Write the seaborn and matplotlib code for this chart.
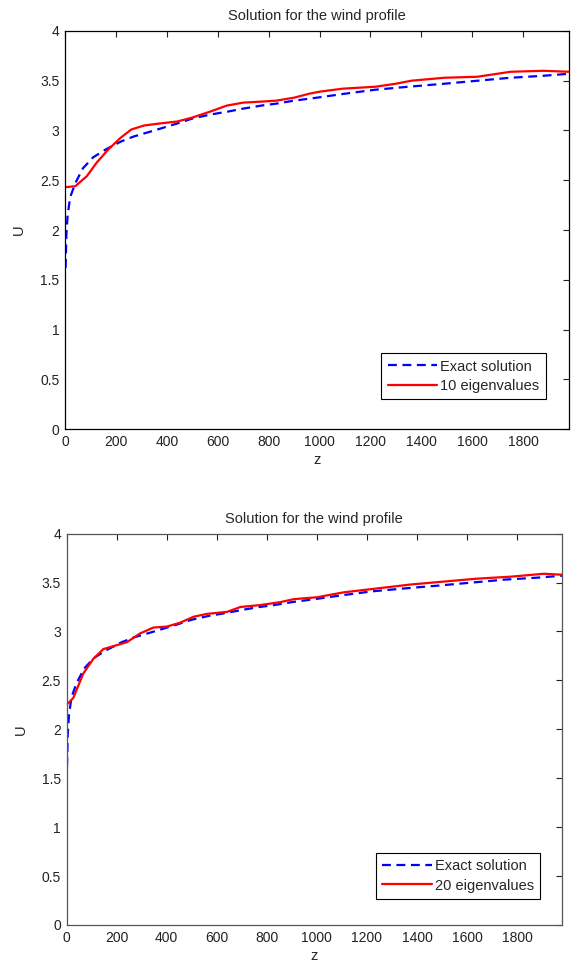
import numpy as np
import pandas as pd
import matplotlib
matplotlib.use('Agg')
import matplotlib.pyplot as plt
import seaborn as sns
from matplotlib.ticker import FuncFormatter, MultipleLocator

sns.set_theme(style='white')
plt.rcParams['font.family'] = ['Liberation Sans', 'DejaVu Sans']
plt.rcParams.update({'font.size': 10, 'xtick.direction': 'in', 'ytick.direction': 'in'})

# exact (log) wind profile
z_exact = [2, 5, 10, 20, 40, 70, 110, 160, 220, 270, 350, 440, 500, 570, 640, 700,
           770, 830, 900, 990, 1100, 1220, 1350, 1490, 1620, 1750, 1880, 1980]
u_exact = [1.62, 1.95, 2.15, 2.33, 2.47, 2.62, 2.73, 2.81, 2.89, 2.94, 3.00, 3.07, 3.12, 3.16,
           3.19, 3.22, 3.25, 3.27, 3.30, 3.33, 3.37, 3.41, 3.44, 3.47, 3.50, 3.53, 3.55, 3.57]

# 10 eigenvalue approximation
z_10 = [0, 40, 85, 125, 170, 215, 260, 310, 370, 440, 500, 570, 635, 700, 770, 830,
        900, 960, 1000, 1090, 1220, 1300, 1360, 1490, 1620, 1750, 1880, 1980]
u_10 = [2.43, 2.44, 2.54, 2.68, 2.81, 2.92, 3.01, 3.05, 3.07, 3.09, 3.13, 3.19, 3.25, 3.28,
        3.29, 3.30, 3.33, 3.37, 3.39, 3.42, 3.44, 3.47, 3.50, 3.53, 3.54, 3.59, 3.60, 3.59]

# 20 eigenvalue approximation
z_20 = [0, 27, 67, 107, 147, 187, 241, 294, 347, 401, 454, 507, 561, 641, 694, 774,
        854, 907, 1001, 1107, 1241, 1374, 1507, 1641, 1774, 1907, 1980]
u_20 = [2.25, 2.32, 2.57, 2.72, 2.82, 2.85, 2.89, 2.98, 3.04, 3.05, 3.09, 3.15, 3.18, 3.20,
        3.25, 3.27, 3.30, 3.33, 3.35, 3.40, 3.44, 3.48, 3.51, 3.54, 3.56, 3.59, 3.58]

exact = pd.DataFrame({'z': z_exact, 'U': u_exact})
approx = [
    (pd.DataFrame({'z': z_10, 'U': u_10}), '10 eigenvalues'),
    (pd.DataFrame({'z': z_20, 'U': u_20}), '20 eigenvalues'),
]

fig = plt.figure(figsize=(5.71, 9.65), dpi=100)
rects = [[0.114, 0.5554, 0.8825, 0.4125], [0.1165, 0.0415, 0.868, 0.4055]]
legend_anchor = [(0.954, 0.075), (0.956, 0.066)]
spine_col = ['black', '#555555']


def matlab_fmt(v, pos):
    return f'{v:g}'


for i, (df, lab) in enumerate(approx):
    ax = fig.add_axes(rects[i])
    sns.lineplot(data=exact, x='z', y='U', ax=ax, color='blue', linewidth=1.6,
                 linestyle=(0, (4, 2.5)), label='Exact solution')
    sns.lineplot(data=df, x='z', y='U', ax=ax, color='red', linewidth=1.6,
                 label=lab)
    ax.set_xlim(0, 1980)
    ax.set_ylim(0, 4)
    ax.xaxis.set_major_locator(MultipleLocator(200))
    ax.yaxis.set_major_locator(MultipleLocator(0.5))
    ax.yaxis.set_major_formatter(FuncFormatter(matlab_fmt))
    ax.tick_params(which='both', top=True, right=True, length=4, width=0.8,
                   colors='#222222', labelsize=10, pad=4)
    for s in ax.spines.values():
        s.set_color(spine_col[i])
        s.set_linewidth(0.9)
    ax.set_title('Solution for the wind profile', fontsize=10.5, pad=8)
    ax.set_xlabel('z', fontsize=10.5, labelpad=3)
    ax.set_ylabel('U', fontsize=10.5, labelpad=10)
    leg = ax.legend(loc='lower right', bbox_to_anchor=legend_anchor[i], borderaxespad=0,
                    fontsize=10.5, handlelength=3.4, fancybox=False, framealpha=1,
                    edgecolor='black', borderpad=0.45, labelspacing=0.35, handletextpad=0.2)
    leg.get_frame().set_linewidth(0.8)

fig.savefig('out.png', dpi=100, facecolor='white')
